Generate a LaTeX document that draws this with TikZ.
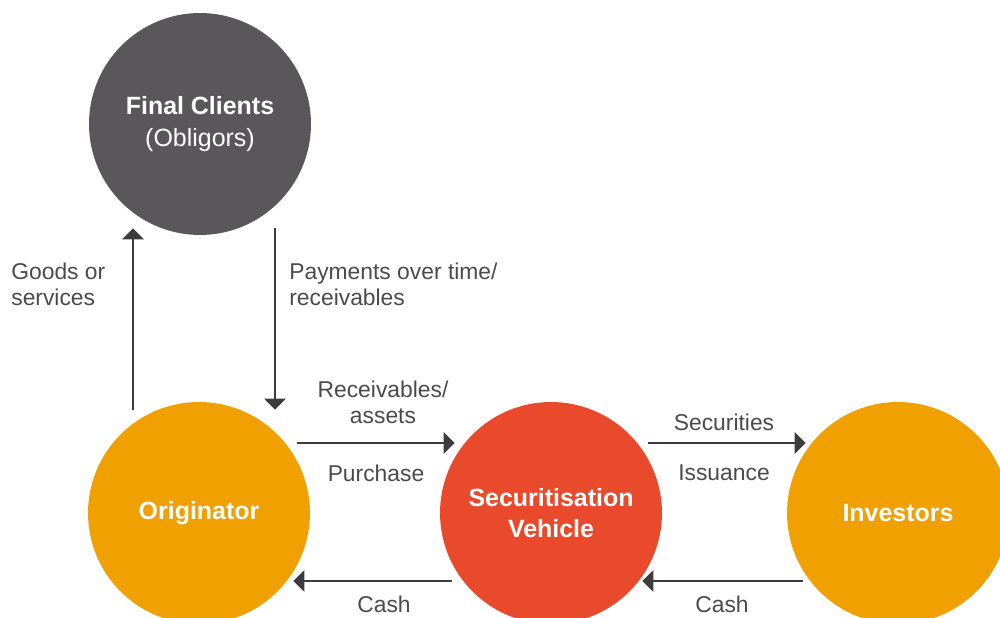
\documentclass[tikz,border=0pt]{standalone}
\usepackage{fontspec}
\setmainfont{Liberation Sans}
\usetikzlibrary{arrows.meta}

\definecolor{clientgray}{HTML}{59575A}
\definecolor{origorange}{HTML}{F0A000}
\definecolor{vehiclered}{HTML}{E84A2B}
\definecolor{arrowgray}{HTML}{3C3C3C}
\definecolor{labelgray}{HTML}{4A4A4A}

\tikzset{
  party/.style={circle, minimum size=4.44cm, inner sep=0pt, text=white,
    font=\fontsize{14.2}{18}\selectfont\bfseries, align=center},
  flow/.style={draw=arrowgray, line width=1.5pt,
    -{Triangle[length=0.22cm,width=0.42cm]}},
  flowlabel/.style={text=labelgray, inner sep=0pt,
    font=\fontsize{13}{14.8}\selectfont},
}

\begin{document}
\begin{tikzpicture}[x=0.02cm, y=0.02cm]
        \useasboundingbox (0,0) rectangle (1000,618);
        \clip (0,0) rectangle (1000,618);

        % Parties
        \node[party, fill=clientgray] (clients) at (200,494) {Final Clients\\\mdseries (Obligors)};
        \node[party, fill=origorange] (orig) at (199,105) {Originator};
        \node[party, fill=vehiclered] (vehicle) at (551,105) {Securitisation\\Vehicle};
        \node[party, fill=origorange] (investors) at (898,105) {Investors};

        % Flows between originator and clients
        \draw[flow] ([shift={(-66,-8)}]orig.north) -- ([shift={(-67,7)}]clients.south);
        \draw[flow] ([shift={(75,7)}]clients.south) -- ([shift={(76,-8)}]orig.north);

        % Flows between originator and vehicle
        \draw[flow] ([shift={(-13,70)}]orig.east) -- ([shift={(15,70)}]vehicle.west);
        \draw[flow] ([shift={(12,-68)}]vehicle.west) -- ([shift={(-17,-68)}]orig.east);

        % Flows between vehicle and investors
        \draw[flow] ([shift={(-14,70)}]vehicle.east) -- ([shift={(19,70)}]investors.west);
        \draw[flow] ([shift={(16,-68)}]investors.west) -- ([shift={(-20,-68)}]vehicle.east);

        % Labels
        \node[flowlabel, anchor=west, align=left] (goods) at (11,334) {Goods or\\services};
        \node[flowlabel, anchor=west, align=left] (payments) at (289,334) {Payments over time/\\receivables};
        \node[flowlabel, align=center] (receivables) at (383,216) {Receivables/\\assets};
        \node[flowlabel] (purchase) at (376,145) {Purchase};
        \node[flowlabel] (securities) at (724,196) {Securities};
        \node[flowlabel] (issuance) at (724,145) {Issuance};
        \node[flowlabel] (cashleft) at (384,14) {Cash};
        \node[flowlabel] (cashright) at (722,14) {Cash};
    \end{tikzpicture}
\end{document}
